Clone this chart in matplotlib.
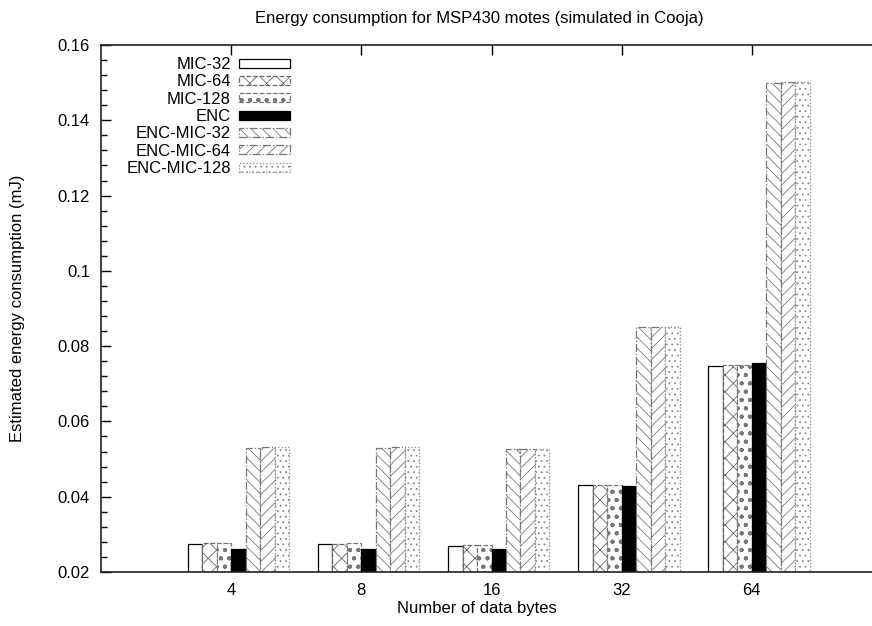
import matplotlib
matplotlib.use("Agg")
import matplotlib.pyplot as plt
import numpy as np

plt.rcParams['font.family'] = ['Liberation Sans', 'DejaVu Sans']
plt.rcParams['hatch.linewidth'] = 0.6

# data
data_bytes = ["4", "8", "16", "32", "64"]
series_names = ["MIC-32", "MIC-64", "MIC-128", "ENC", "ENC-MIC-32", "ENC-MIC-64", "ENC-MIC-128"]
mic_32 = [0.0275, 0.0275, 0.0270, 0.0432, 0.0747]
mic_64 = [0.0276, 0.0275, 0.0272, 0.0432, 0.0751]
mic_128 = [0.0277, 0.0276, 0.0272, 0.0432, 0.0751]
enc = [0.0261, 0.0262, 0.0262, 0.0429, 0.0756]
enc_mic_32 = [0.0529, 0.0530, 0.0528, 0.0851, 0.1500]
enc_mic_64 = [0.0531, 0.0531, 0.0528, 0.0852, 0.1502]
enc_mic_128 = [0.0531, 0.0531, 0.0528, 0.0852, 0.1502]
all_series = [mic_32, mic_64, mic_128, enc, enc_mic_32, enc_mic_64, enc_mic_128]

# (facecolor, edgecolor, hatch, linestyle) per series, gnuplot-ish patterns
styles = [
    ("white", "black", None, "-"),
    ("white", "#666666", "xx", "--"),
    ("white", "#777777", "oo..", "--"),
    ("black", "black", None, "-"),
    ("white", "#777777", "\\\\\\", "-."),
    ("white", "#777777", "///", "-."),
    ("white", "#888888", "...", ":"),
]

W, H = 872, 626
fig = plt.figure(figsize=(W / 100, H / 100), dpi=100)
# right edge of the frame runs past the picture, as in the reference
ax = fig.add_axes([101 / W, (H - 572) / H, (882 - 101) / W, (572 - 45) / H])

x = np.arange(len(data_bytes))
bar_w = 1 / 9
for i, (vals, name) in enumerate(zip(all_series, series_names)):
    fc, ec, hatch, ls = styles[i]
    ax.bar(x + (i - 3) * bar_w, np.array(vals) - 0.02, bar_w, bottom=0.02, align="edge",
           color=fc, edgecolor=ec, hatch=hatch, linestyle=ls, linewidth=0.9, label=name)

ax.set_xlim(-1.0, 5.0)
ax.set_ylim(0.02, 0.16)
ax.set_xticks(x)
ax.set_xticklabels(data_bytes)
ax.set_yticks(np.arange(0.02, 0.161, 0.02))
ax.set_yticklabels(["0.02", "0.04", "0.06", "0.08", "0.1", "0.12", "0.14", "0.16"])
ax.set_yticks(np.arange(0.02, 0.16, 0.004), minor=True)
ax.tick_params(axis="both", which="major", direction="in", length=7, width=1,
               labelsize=12, top=True, right=True, pad=8)
ax.tick_params(axis="y", which="minor", direction="in", length=4, width=1, right=True)
ax.tick_params(axis="x", which="minor", bottom=False, top=False)
for sp in ax.spines.values():
    sp.set_linewidth(1.2)
    sp.set_color("#222222")

fig.text(479 / W, 1 - 18 / H, "Energy consumption for MSP430 motes (simulated in Cooja)",
         ha="center", va="center", fontsize=12)
fig.text(477 / W, 1 - 608 / H, "Number of data bytes", ha="center", va="center", fontsize=12)
fig.text(18 / W, 1 - 308 / H, "Estimated energy consumption (mJ)", ha="center", va="center",
         rotation=90, fontsize=12)

leg = ax.legend(loc="upper right", bbox_to_anchor=((290 - 101) / 781, 0.977), markerfirst=False,
                frameon=False, fontsize=12, handlelength=3.05, handleheight=0.45,
                handletextpad=0.5, labelspacing=0.14, borderpad=0, borderaxespad=0)
# right-align the labels like gnuplot's key
for col in leg._legend_handle_box.get_children():
    col.align = "right"
for t in leg.get_texts():
    t.set_ha("right")

fig.savefig("out.png", dpi=100)
